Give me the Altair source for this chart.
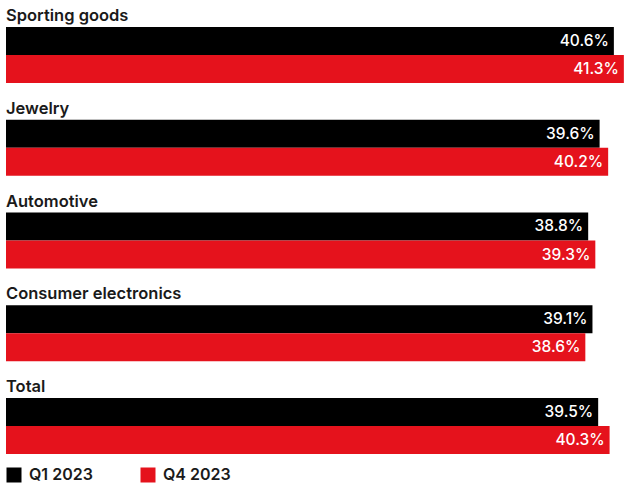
import altair as alt
import pandas as pd

categories = ["Sporting goods", "Jewelry", "Automotive", "Consumer electronics", "Total"]
series = ["Q1 2023", "Q4 2023"]
q1_values = [40.6, 39.6, 38.8, 39.1, 39.5]
q4_values = [41.3, 40.2, 39.3, 38.6, 40.3]
colors = ["#000000", "#E5121C"]

rows = []
for c, a, b in zip(categories, q1_values, q4_values):
    rows.append({"category": c, "series": series[0], "value": a, "label": f"{a:.1f}%"})
    rows.append({"category": c, "series": series[1], "value": b, "label": f"{b:.1f}%"})
df = pd.DataFrame(rows)
cat_df = pd.DataFrame({"category": categories})

XMIN, XMAX = -2.0, 41.45
FONT = "Inter"

x_scale = alt.Scale(domain=[XMIN, XMAX], zero=False, nice=False)
y_enc = alt.Y("category:N", sort=categories, axis=None,
              scale=alt.Scale(domain=categories, paddingInner=0.396, paddingOuter=0.291))
yoff_enc = alt.YOffset("series:N", sort=series,
                       scale=alt.Scale(domain=series, paddingInner=0, paddingOuter=0))

bars = alt.Chart(df).mark_bar(strokeWidth=0).encode(
    x=alt.X("value:Q", scale=x_scale, axis=None),
    x2=alt.datum(XMIN),
    y=y_enc,
    yOffset=yoff_enc,
    color=alt.Color("series:N", sort=series,
                    scale=alt.Scale(domain=series, range=colors),
                    legend=alt.Legend(title=None, orient="none", legendX=0, legendY=467,
                                      direction="horizontal", symbolType="square",
                                      symbolSize=225, symbolStrokeWidth=0,
                                      labelFont=FONT, labelFontSize=16, labelFontWeight=600,
                                      labelColor="#1a1a1a", labelOffset=7,
                                      columnPadding=47)),
)

values = alt.Chart(df).mark_text(align="right", baseline="middle", dx=-5, color="white",
                                 font=FONT, fontSize=15.5, fontWeight=500).encode(
    x=alt.X("value:Q", scale=x_scale, axis=None),
    y=y_enc,
    yOffset=yoff_enc,
    text="label:N",
)

cat_labels = alt.Chart(cat_df).mark_text(align="left", baseline="alphabetic", dy=-34,
                                         font=FONT, fontSize=16.5, fontWeight=600,
                                         color="#1a1a1a").encode(
    x=alt.value(0),
    y=y_enc,
    text="category:N",
)

chart = alt.layer(bars, values, cat_labels).properties(
    width=620, height=481,
    padding={"left": 6, "top": 0, "right": 0, "bottom": 10},
    autosize=alt.AutoSizeParams(type="none"),
    background="white",
).configure_view(stroke=None)

chart.save("out.html", embed_options={"renderer": "svg", "actions": False})
